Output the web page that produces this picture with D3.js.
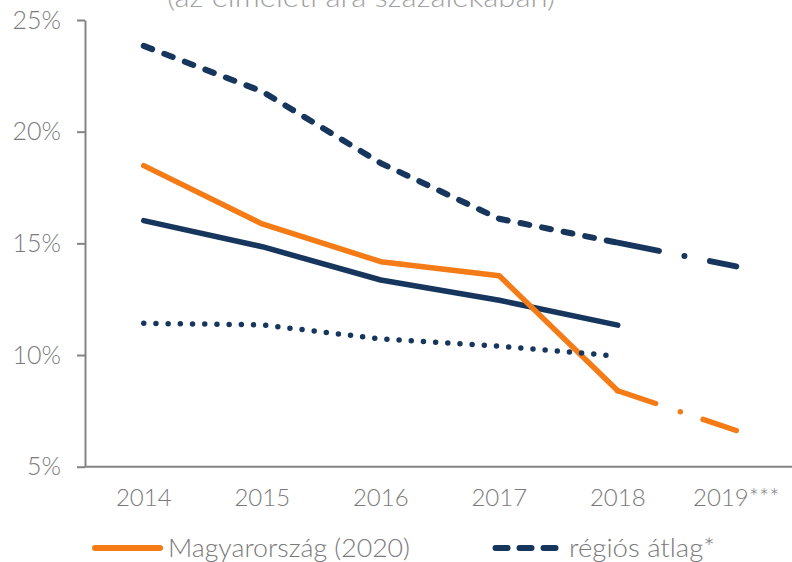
<!DOCTYPE html>
<html><head><meta charset="utf-8">
<script src="https://cdn.jsdelivr.net/npm/d3@7"></script>
<style>
body{margin:0;background:#fff;}
svg{display:block;font-family:Lato,"Open Sans",sans-serif;}
</style></head>
<body><svg id="c" width="792" height="562"></svg>
<script>
const years = ["2014","2015","2016","2017","2018","2019***"];
const yTicks = [5,10,15,20,25];
const hungary = [18.48,15.87,14.18,13.55,8.40,6.62];
const regional = [23.84,21.80,18.59,16.10,15.03,13.97];
const navySolid = [16.02,14.85,13.36,12.45,11.34];
const navyDotted = [11.42,11.35,10.72,10.40,9.95];
const legendLabels = ["Magyarország (2020)","régiós átlag*"];
const subtitle = "(az elméleti ára százalékában)";

const ORANGE = "#F47B16", NAVY = "#17365D", GRAY = "#848484", TXT = "#7a7a7a";
const svg = d3.select("#c");
const x = d3.scaleBand().domain(years).range([84.5,795.5]).paddingInner(0).paddingOuter(0);
const cx = d => x(d) + x.bandwidth()/2;
const y = d3.scaleLinear().domain([5,25]).range([466.7,20]);

svg.append("text").attr("x",167).attr("y",7)
  .attr("fill","#a0a0a0").attr("font-size",28).attr("font-weight",300)
  .attr("textLength",388).attr("lengthAdjust","spacingAndGlyphs").text(subtitle);

// axes
const ya = svg.append("g").attr("transform","translate(85,0)")
  .call(d3.axisLeft(y).tickValues(yTicks).tickSize(8).tickSizeOuter(0).tickPadding(16).tickFormat(d=>d+"%"));
ya.select(".domain").attr("stroke",GRAY).attr("stroke-width",2);
ya.selectAll(".tick line").attr("stroke",GRAY).attr("stroke-width",2);
ya.selectAll(".tick text").attr("fill",TXT).attr("font-size",25).attr("font-weight",300).attr("font-family","Lato");

const xa = svg.append("g").attr("transform","translate(0,466.7)")
  .call(d3.axisBottom(x).tickSize(0).tickSizeOuter(0).tickPadding(22));
xa.select(".domain").attr("stroke",GRAY).attr("stroke-width",2).attr("d","M85,0H792");
xa.selectAll(".tick text").attr("fill",TXT).attr("font-size",24).attr("font-weight",300).attr("font-family","Lato");

const line = d3.line().x(d=>cx(d.k)).y(d=>y(d.v));
const pts = arr => arr.map((v,i)=>({k:years[i],v}));

function draw(data, color, dash, w){
  svg.append("path").datum(data).attr("d",line).attr("fill","none")
    .attr("stroke",color).attr("stroke-width",w).attr("stroke-linecap","round")
    .attr("stroke-linejoin","round").attr("stroke-dasharray",dash);
}
// navy solid
draw(pts(navySolid), NAVY, null, 5.5);
// orange
const h = pts(hungary);
draw(h.slice(0,5), ORANGE, null, 5.5);
draw(h.slice(4,6), ORANGE, "40,26,0,24,80", 5.5);
// dotted
draw(pts(navyDotted), NAVY, "0,12.2", 5.5);
// regional dashed
const r = pts(regional);
draw(r.slice(0,5), NAVY, "9,13", 6);
draw(r.slice(4,6), NAVY, "42,26,0,26,80", 6);

// legend
const lg = svg.append("g");
lg.append("line").attr("x1",95).attr("x2",160).attr("y1",548).attr("y2",548)
  .attr("stroke",ORANGE).attr("stroke-width",6).attr("stroke-linecap","round");
lg.append("text").attr("x",168).attr("y",557).attr("fill",TXT).attr("font-size",25).attr("font-weight",300)
  .attr("textLength",242).attr("lengthAdjust","spacingAndGlyphs").text(legendLabels[0]);
lg.append("line").attr("x1",495.5).attr("x2",555.5).attr("y1",548).attr("y2",548)
  .attr("stroke",NAVY).attr("stroke-width",6).attr("stroke-linecap","round").attr("stroke-dasharray","12,12");
lg.append("text").attr("x",569).attr("y",557).attr("fill",TXT).attr("font-size",25).attr("font-weight",300)
  .attr("textLength",146).attr("lengthAdjust","spacingAndGlyphs").text(legendLabels[1]);
</script></body></html>
